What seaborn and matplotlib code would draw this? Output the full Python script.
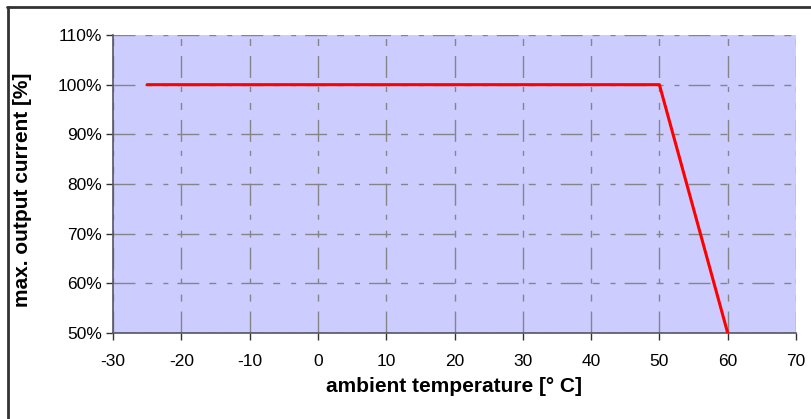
import numpy as np
import pandas as pd
import matplotlib
matplotlib.use("Agg")
import matplotlib.pyplot as plt
from matplotlib.lines import Line2D
from matplotlib.ticker import FuncFormatter
import seaborn as sns

# derating curve
temperature = [-25, 50, 60]
current = [100, 100, 50]

x_ticks = list(range(-30, 71, 10))
y_ticks = list(range(50, 111, 10))

df = pd.DataFrame({"temp": temperature, "current": current})

sns.set_style("white")
plt.rcParams['font.family'] = ['Liberation Sans', 'DejaVu Sans']
plt.rcParams['axes.unicode_minus'] = False

fig = plt.figure(figsize=(8.11, 4.19), dpi=100)
ax = fig.add_axes([113 / 811, 86 / 419, 683 / 811, 298 / 419])
ax.set_facecolor("#ccccff")

sns.lineplot(data=df, x="temp", y="current", ax=ax, color="red", lw=2.2, sort=False, zorder=3)

ax.set_xlim(-30, 70)
ax.set_ylim(50, 110)
ax.set_xticks(x_ticks)
ax.set_yticks(y_ticks)
ax.yaxis.set_major_formatter(FuncFormatter(lambda v, p: "%d%%" % v))

# long dash + two short dashes, like the excel grid
ax.grid(True, color="#858585", lw=1, linestyle=(0, (15.8, 7.2, 5, 7.9, 3.6, 6.5)))
ax.set_axisbelow(True)

for s in ["top", "right"]:
    ax.spines[s].set_visible(False)
for s in ["left", "bottom"]:
    ax.spines[s].set_color("#555566")
    ax.spines[s].set_linewidth(1.2)

ax.tick_params(axis="both", direction="out", length=5, width=1, color="#333333",
               labelsize=12.5, labelcolor="black", pad=3, bottom=True, left=True)
ax.tick_params(axis="x", pad=10)

ax.set_xlabel("ambient temperature [° C]", fontsize=15, fontweight="bold", color="black")
ax.set_ylabel("max. output current [%]", fontsize=15, fontweight="bold", color="black")
ax.xaxis.set_label_coords(0.5, -0.148)
ax.yaxis.set_label_coords(-0.118, 0.48)

# outer frame (top and left edges of a border)
fig.add_artist(Line2D([7 / 811, 1], [1 - 7.5 / 419, 1 - 7.5 / 419], transform=fig.transFigure, color="#333333", lw=2))
fig.add_artist(Line2D([7.5 / 811, 7.5 / 811], [0, 1 - 7 / 419], transform=fig.transFigure, color="#333333", lw=2))

fig.savefig("out.png", dpi=100)
